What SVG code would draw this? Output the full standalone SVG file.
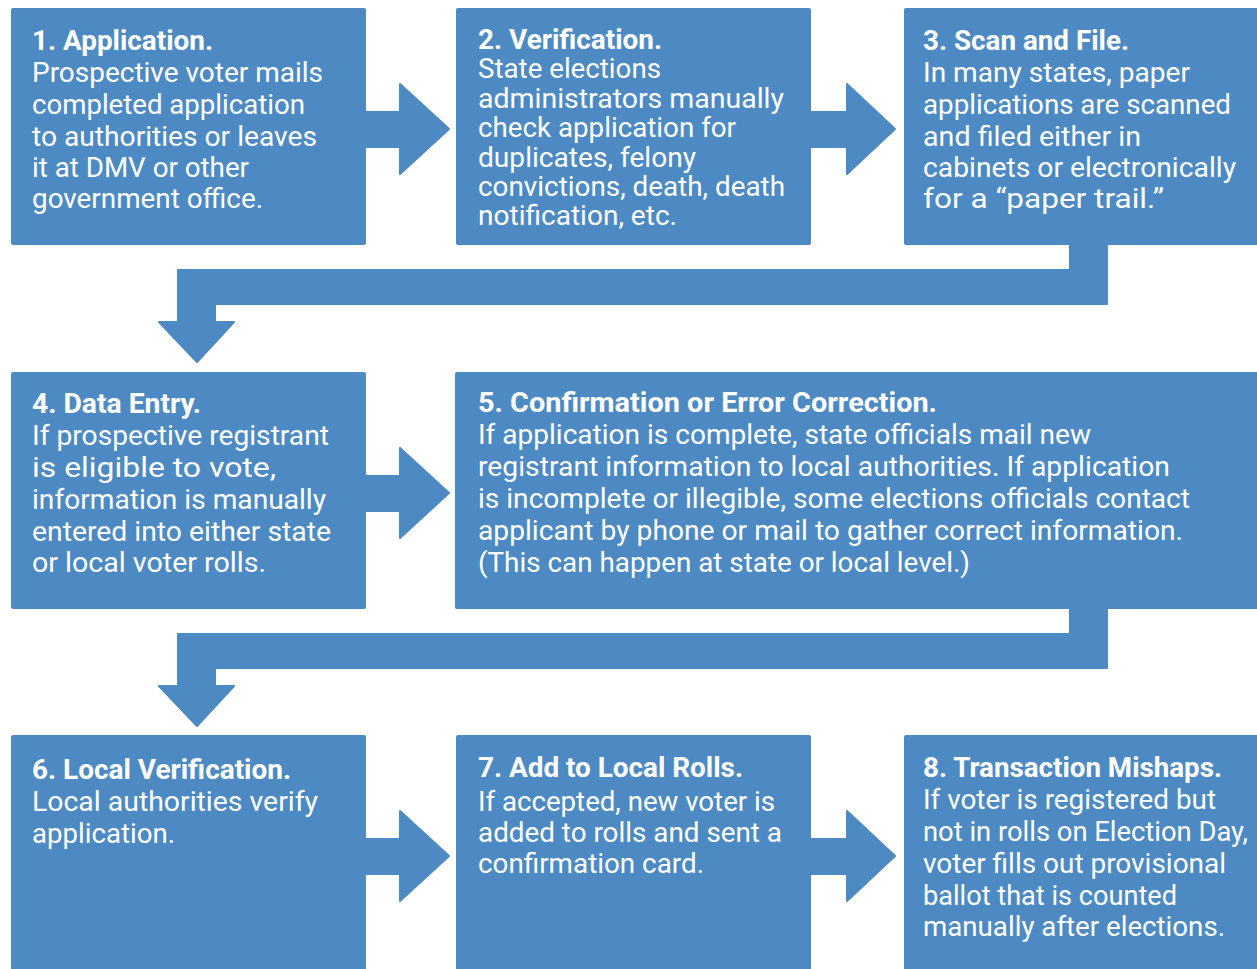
<svg xmlns="http://www.w3.org/2000/svg" width="1257" height="969" viewBox="0 0 1257 969">
<style>
.box{fill:#4d8ac3}
.arr{fill:#4d8ac3;stroke:#4d8ac3;stroke-width:2;stroke-linejoin:round}
text{font-family:Roboto,"Liberation Sans",sans-serif;fill:#ffffff;font-size:27px}
.t{font-weight:bold;font-size:27.5px}
</style>
<rect width="1257" height="969" fill="#ffffff"/>
<g id="connectors">
<polygon class="arr" points="366,112 400,112 400,84 449,129 400,174 400,147 366,147"/>
<polygon class="arr" points="811,112 847,112 847,84 895,129 847,174 847,147 811,147"/>
<polygon class="arr" points="1070,244 1107,244 1107,304 215,304 215,322 234,322 197,362 159,322 178,322 178,270 1070,270"/>
<polygon class="arr" points="366,476 400,476 400,448 449,493 400,538 400,511 366,511"/>
<polygon class="arr" points="1070,608 1107,608 1107,668 215,668 215,686 234,686 197,726 159,686 178,686 178,634 1070,634"/>
<polygon class="arr" points="366,839 400,839 400,811 449,856 400,901 400,874 366,874"/>
<polygon class="arr" points="811,839 847,839 847,811 895,856 847,901 847,874 811,874"/>
</g>
<g id="node1">
<rect class="box" x="11" y="8" width="355" height="237" rx="2"/>
<text class="t" x="32" y="50" textLength="181" lengthAdjust="spacingAndGlyphs">1. Application.</text>
<text x="32" y="82" textLength="291" lengthAdjust="spacingAndGlyphs">Prospective voter mails</text>
<text x="32" y="114" textLength="273" lengthAdjust="spacingAndGlyphs">completed application</text>
<text x="32" y="146" textLength="285" lengthAdjust="spacingAndGlyphs">to authorities or leaves</text>
<text x="32" y="177" textLength="217" lengthAdjust="spacingAndGlyphs">it at DMV or other</text>
<text x="32" y="208" textLength="231" lengthAdjust="spacingAndGlyphs">government office.</text>
</g>
<g id="node2">
<rect class="box" x="456" y="8" width="355" height="237" rx="2"/>
<text class="t" x="478" y="49" textLength="184" lengthAdjust="spacingAndGlyphs">2. Verification.</text>
<text x="478" y="78" textLength="183" lengthAdjust="spacingAndGlyphs">State elections</text>
<text x="478" y="108" textLength="306" lengthAdjust="spacingAndGlyphs">administrators manually</text>
<text x="478" y="137" textLength="258" lengthAdjust="spacingAndGlyphs">check application for</text>
<text x="478" y="167" textLength="218" lengthAdjust="spacingAndGlyphs">duplicates, felony</text>
<text x="478" y="196" textLength="307" lengthAdjust="spacingAndGlyphs">convictions, death, death</text>
<text x="478" y="225" textLength="199" lengthAdjust="spacingAndGlyphs">notification, etc.</text>
</g>
<g id="node3">
<rect class="box" x="904" y="8" width="355" height="237" rx="2"/>
<text class="t" x="923" y="50" textLength="206" lengthAdjust="spacingAndGlyphs">3. Scan and File.</text>
<text x="923" y="82" textLength="267" lengthAdjust="spacingAndGlyphs">In many states, paper</text>
<text x="923" y="114" textLength="308" lengthAdjust="spacingAndGlyphs">applications are scanned</text>
<text x="923" y="146" textLength="218" lengthAdjust="spacingAndGlyphs">and filed either in</text>
<text x="923" y="177" textLength="313" lengthAdjust="spacingAndGlyphs">cabinets or electronically</text>
<text x="923" y="208" textLength="241" lengthAdjust="spacingAndGlyphs">for a “paper trail.”</text>
</g>
<g id="node4">
<rect class="box" x="11" y="372" width="355" height="237" rx="2"/>
<text class="t" x="32" y="413" textLength="169" lengthAdjust="spacingAndGlyphs">4. Data Entry.</text>
<text x="32" y="445" textLength="297" lengthAdjust="spacingAndGlyphs">If prospective registrant</text>
<text x="32" y="477" textLength="244" lengthAdjust="spacingAndGlyphs">is eligible to vote,</text>
<text x="32" y="509" textLength="294" lengthAdjust="spacingAndGlyphs">information is manually</text>
<text x="32" y="541" textLength="299" lengthAdjust="spacingAndGlyphs">entered into either state</text>
<text x="32" y="572" textLength="234" lengthAdjust="spacingAndGlyphs">or local voter rolls.</text>
</g>
<g id="node5">
<rect class="box" x="455" y="372" width="804" height="237" rx="2"/>
<text class="t" x="478" y="412" textLength="459" lengthAdjust="spacingAndGlyphs">5. Confirmation or Error Correction.</text>
<text x="478" y="444" textLength="613" lengthAdjust="spacingAndGlyphs">If application is complete, state officials mail new</text>
<text x="478" y="476" textLength="692" lengthAdjust="spacingAndGlyphs">registrant information to local authorities. If application</text>
<text x="478" y="508" textLength="712" lengthAdjust="spacingAndGlyphs">is incomplete or illegible, some elections officials contact</text>
<text x="478" y="540" textLength="705" lengthAdjust="spacingAndGlyphs">applicant by phone or mail to gather correct information.</text>
<text x="478" y="572" textLength="492" lengthAdjust="spacingAndGlyphs">(This can happen at state or local level.)</text>
</g>
<g id="node6">
<rect class="box" x="11" y="735" width="355" height="240" rx="2"/>
<text class="t" x="32" y="779" textLength="259" lengthAdjust="spacingAndGlyphs">6. Local Verification.</text>
<text x="32" y="811" textLength="286" lengthAdjust="spacingAndGlyphs">Local authorities verify</text>
<text x="32" y="843" textLength="143" lengthAdjust="spacingAndGlyphs">application.</text>
</g>
<g id="node7">
<rect class="box" x="456" y="735" width="355" height="240" rx="2"/>
<text class="t" x="478" y="777" textLength="265" lengthAdjust="spacingAndGlyphs">7. Add to Local Rolls.</text>
<text x="478" y="811" textLength="297" lengthAdjust="spacingAndGlyphs">If accepted, new voter is</text>
<text x="478" y="842" textLength="304" lengthAdjust="spacingAndGlyphs">added to rolls and sent a</text>
<text x="478" y="873" textLength="226" lengthAdjust="spacingAndGlyphs">confirmation card.</text>
</g>
<g id="node8">
<rect class="box" x="904" y="735" width="355" height="240" rx="2"/>
<text class="t" x="923" y="777" textLength="299" lengthAdjust="spacingAndGlyphs">8. Transaction Mishaps.</text>
<text x="923" y="809" textLength="293" lengthAdjust="spacingAndGlyphs">If voter is registered but</text>
<text x="923" y="841" textLength="325" lengthAdjust="spacingAndGlyphs">not in rolls on Election Day,</text>
<text x="923" y="873" textLength="303" lengthAdjust="spacingAndGlyphs">voter fills out provisional</text>
<text x="923" y="905" textLength="254" lengthAdjust="spacingAndGlyphs">ballot that is counted</text>
<text x="923" y="936" textLength="302" lengthAdjust="spacingAndGlyphs">manually after elections.</text>
</g>
</svg>
